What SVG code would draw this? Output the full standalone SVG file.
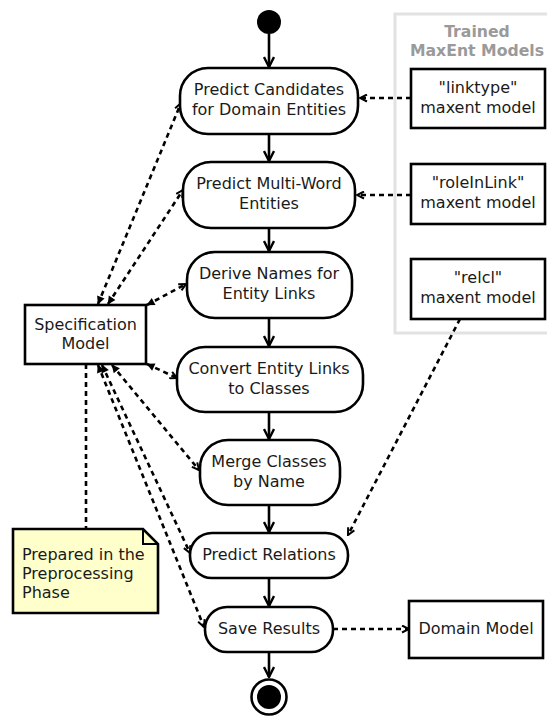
<svg xmlns="http://www.w3.org/2000/svg" width="547" height="717" viewBox="0 0 547 717">
  <style>
    .act { fill: #ffffff; stroke: #000000; stroke-width: 2.6; }
    .box { fill: #ffffff; stroke: #000000; stroke-width: 2.6; }
    .note { fill: #ffffcc; stroke: #000000; stroke-width: 2.6; stroke-linejoin: miter; }
    text { font-family: "DejaVu Sans", "Noto Sans", sans-serif; font-size: 16px; fill: #1a1a1a; }
    .c { text-anchor: middle; }
    .title { font-weight: bold; fill: #9a9a9a; font-size: 15.7px; }
    .flow { stroke: #000000; stroke-width: 2.6; fill: none; marker-end: url(#open); }
    .dep { stroke: #000000; stroke-width: 2.6; fill: none; stroke-dasharray: 5 4; }
    .uni { marker-end: url(#small); }
    .bi { marker-start: url(#solid); marker-end: url(#small); }
  </style>
  <defs>
    <marker id="open" viewBox="0 0 12 12" refX="11" refY="6" markerWidth="12" markerHeight="12" markerUnits="userSpaceOnUse" orient="auto">
      <path d="M1,1 L11,6 L1,11" fill="none" stroke="#000000" stroke-width="2.4" stroke-dasharray="none"/>
    </marker>
    <marker id="small" viewBox="0 0 9 9" refX="8" refY="4.5" markerWidth="9" markerHeight="9" markerUnits="userSpaceOnUse" orient="auto">
      <path d="M1,1 L8,4.5 L1,8" fill="none" stroke="#000000" stroke-width="2" stroke-dasharray="none"/>
    </marker>
    <marker id="solid" viewBox="0 0 9 9" refX="8" refY="4.5" markerWidth="9" markerHeight="9" markerUnits="userSpaceOnUse" orient="auto-start-reverse">
      <path d="M0.5,0.5 L8.5,4.5 L0.5,8.5 Z" fill="#000000" stroke="none"/>
    </marker>
  </defs>

  <!-- model group frame -->
  <g id="maxent-models">
    <rect x="395" y="14" width="160" height="319" fill="none" stroke="#e2e2e2" stroke-width="3"/>
    <text class="c title" x="477" y="37">Trained</text>
    <text class="c title" x="477" y="56">MaxEnt Models</text>
  </g>

  <!-- connectors -->
  <g id="connectors">
    <line class="flow" x1="269" y1="34" x2="269" y2="67"/>
    <line class="flow" x1="269" y1="134" x2="269" y2="161"/>
    <line class="flow" x1="269" y1="228" x2="269" y2="251"/>
    <line class="flow" x1="269" y1="318" x2="269" y2="346"/>
    <line class="flow" x1="269" y1="412" x2="269" y2="439"/>
    <line class="flow" x1="269" y1="505" x2="269" y2="532"/>
    <line class="flow" x1="269" y1="578" x2="269" y2="606"/>
    <line class="flow" x1="269" y1="652" x2="269" y2="677"/>

    <line class="dep uni" x1="411" y1="98" x2="360" y2="98"/>
    <line class="dep uni" x1="411" y1="195" x2="357" y2="195"/>
    <line class="dep uni" x1="460" y1="319" x2="348" y2="535"/>
    <line class="dep uni" x1="333" y1="629" x2="409" y2="629"/>

    <line class="dep bi" x1="98" y1="304" x2="181" y2="103"/>
    <line class="dep bi" x1="108" y1="304" x2="183" y2="190"/>
    <line class="dep bi" x1="147" y1="305" x2="186" y2="284"/>
    <line class="dep bi" x1="147" y1="364" x2="177" y2="378"/>
    <line class="dep bi" x1="112" y1="365" x2="199" y2="470"/>
    <line class="dep bi" x1="102" y1="365" x2="190" y2="553"/>
    <line class="dep bi" x1="98" y1="365" x2="204" y2="627"/>

    <line class="dep" x1="86" y1="364" x2="86" y2="529"/>
  </g>

  <g id="start">
    <circle cx="269" cy="22" r="12" fill="#000000"/>
  </g>

  <g id="predict-candidates">
    <rect class="act" x="180" y="68" width="178" height="66" rx="28"/>
    <text class="c" x="269" y="95">Predict Candidates</text>
    <text class="c" x="269" y="115">for Domain Entities</text>
  </g>

  <g id="predict-multiword">
    <rect class="act" x="183" y="162" width="172" height="66" rx="28"/>
    <text class="c" x="269" y="189">Predict Multi-Word</text>
    <text class="c" x="269" y="209">Entities</text>
  </g>

  <g id="derive-names">
    <rect class="act" x="187" y="252" width="165" height="66" rx="28"/>
    <text class="c" x="269" y="279">Derive Names for</text>
    <text class="c" x="269" y="299">Entity Links</text>
  </g>

  <g id="convert-links">
    <rect class="act" x="177" y="347" width="186" height="65" rx="28"/>
    <text class="c" x="269" y="374">Convert Entity Links</text>
    <text class="c" x="269" y="394">to Classes</text>
  </g>

  <g id="merge-classes">
    <rect class="act" x="200" y="440" width="140" height="65" rx="28"/>
    <text class="c" x="269" y="467">Merge Classes</text>
    <text class="c" x="269" y="487">by Name</text>
  </g>

  <g id="predict-relations">
    <rect class="act" x="190" y="533" width="158" height="45" rx="22"/>
    <text class="c" x="269" y="560">Predict Relations</text>
  </g>

  <g id="save-results">
    <rect class="act" x="205" y="607" width="128" height="45" rx="22"/>
    <text class="c" x="269" y="634">Save Results</text>
  </g>

  <g id="end">
    <circle cx="269" cy="697" r="17.5" fill="#ffffff" stroke="#000000" stroke-width="2.6"/>
    <circle cx="269" cy="697" r="12" fill="#000000"/>
  </g>

  <g id="specification-model">
    <rect class="box" x="25" y="305" width="121" height="59"/>
    <text class="c" x="85.5" y="330">Specification</text>
    <text class="c" x="85.5" y="349">Model</text>
  </g>

  <g id="preprocessing-note">
    <path class="note" d="M13,529 H143 L158,544 V613 H13 Z"/>
    <path d="M143,529 V544 H158" fill="none" stroke="#000000" stroke-width="2"/>
    <text x="22" y="560">Prepared in the</text>
    <text x="22" y="579">Preprocessing</text>
    <text x="22" y="598">Phase</text>
  </g>

  <g id="linktype-model">
    <rect class="box" x="411" y="69" width="134" height="59"/>
    <text class="c" x="478" y="93">"linktype"</text>
    <text class="c" x="478" y="113">maxent model</text>
  </g>

  <g id="roleinlink-model">
    <rect class="box" x="411" y="164" width="134" height="60"/>
    <text class="c" x="478" y="188">"roleInLink"</text>
    <text class="c" x="478" y="208">maxent model</text>
  </g>

  <g id="relcl-model">
    <rect class="box" x="411" y="259" width="134" height="60"/>
    <text class="c" x="478" y="283">"relcl"</text>
    <text class="c" x="478" y="303">maxent model</text>
  </g>

  <g id="domain-model">
    <rect class="box" x="409" y="601" width="134" height="57"/>
    <text class="c" x="476" y="634">Domain Model</text>
  </g>
</svg>
